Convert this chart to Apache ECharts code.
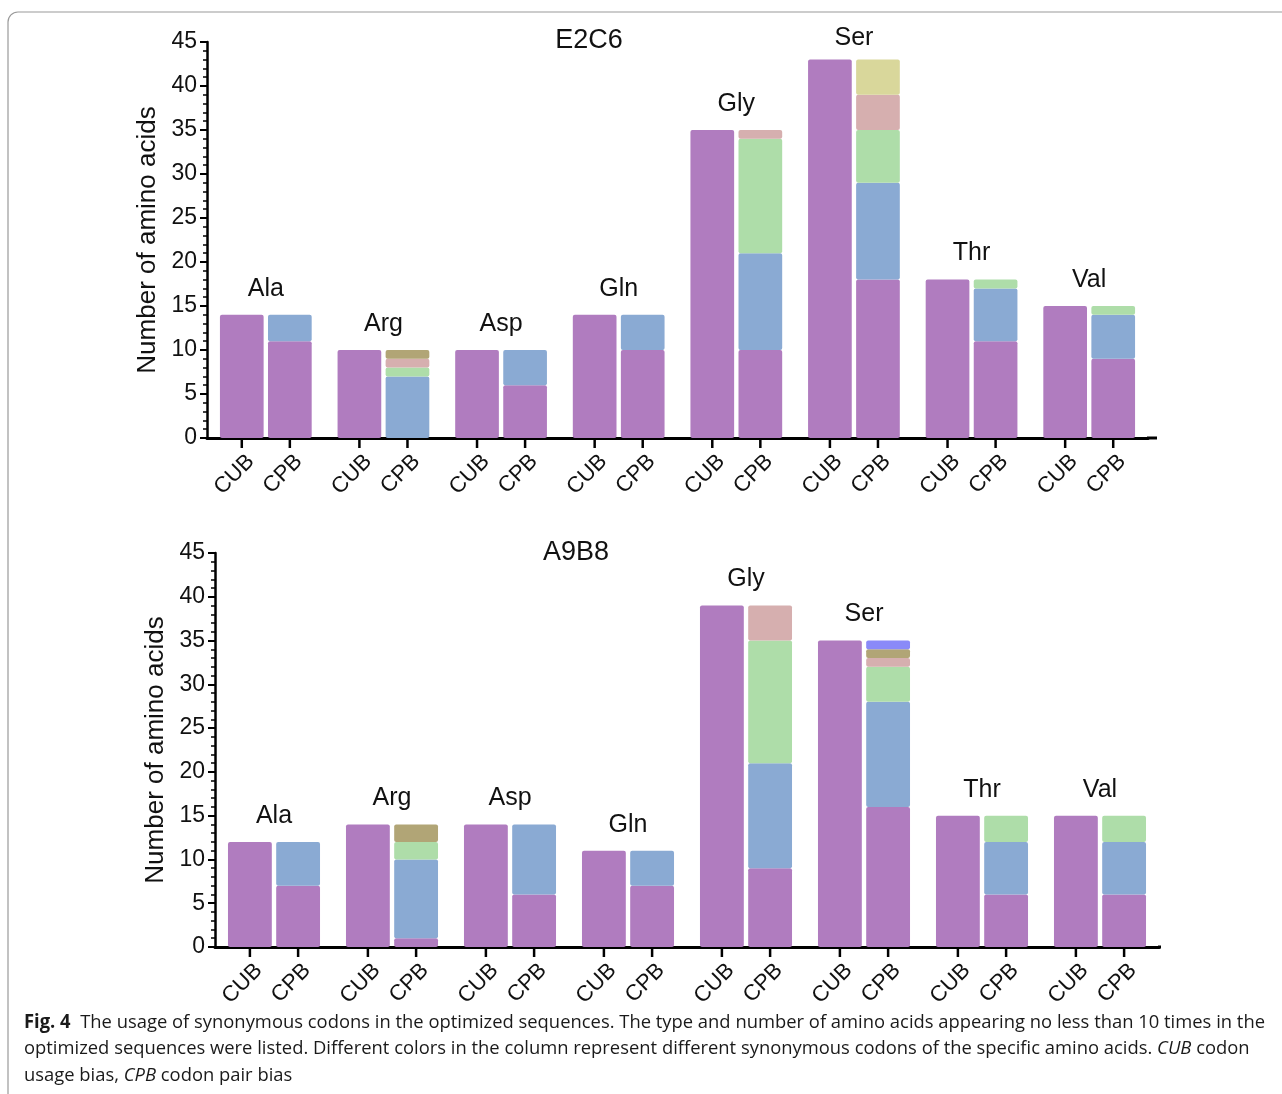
<!DOCTYPE html>
<html>
<head>
<meta charset="utf-8">
<script src="https://cdn.jsdelivr.net/npm/echarts@6/dist/echarts.min.js"></script>
<style>
html,body{margin:0;padding:0;background:#fff;}
#c{width:1282px;height:1094px;}
</style>
</head>
<body>
<div id="c"></div>
<script>
// ---------- DATA ----------
const aminoAcids = ['Ala', 'Arg', 'Asp', 'Gln', 'Gly', 'Ser', 'Thr', 'Val'];
const yTicks = [0, 5, 10, 15, 20, 25, 30, 35, 40, 45];

// E2C6
const e2c6_CUB      = [14, 10, 10, 14, 35, 43, 18, 15];
const e2c6_CPB_c1   = [11, 0, 6, 10, 10, 18, 11, 9];   // purple
const e2c6_CPB_c2   = [3, 7, 4, 4, 11, 11, 6, 5];      // blue
const e2c6_CPB_c3   = [0, 1, 0, 0, 13, 6, 1, 1];       // green
const e2c6_CPB_c4   = [0, 1, 0, 0, 1, 4, 0, 0];        // pink
const e2c6_CPB_c5   = [0, 0, 0, 0, 0, 4, 0, 0];        // yellow
const e2c6_CPB_c6   = [0, 1, 0, 0, 0, 0, 0, 0];        // olive
const e2c6_CPB_c7   = [0, 0, 0, 0, 0, 0, 0, 0];        // violet

// A9B8
const a9b8_CUB      = [12, 14, 14, 11, 39, 35, 15, 15];
const a9b8_CPB_c1   = [7, 1, 6, 7, 9, 16, 6, 6];
const a9b8_CPB_c2   = [5, 9, 8, 4, 12, 12, 6, 6];
const a9b8_CPB_c3   = [0, 2, 0, 0, 14, 4, 3, 3];
const a9b8_CPB_c4   = [0, 0, 0, 0, 4, 1, 0, 0];
const a9b8_CPB_c5   = [0, 0, 0, 0, 0, 0, 0, 0];
const a9b8_CPB_c6   = [0, 2, 0, 0, 0, 1, 0, 0];
const a9b8_CPB_c7   = [0, 0, 0, 0, 0, 1, 0, 0];

const barLabels = ['CUB', 'CPB'];
const titles = ['E2C6', 'A9B8'];

// ---------- STYLE ----------
const colors = ['#B07CBF', '#8AAAD3', '#AEDDA9', '#D6AFAF', '#D9D79B', '#B1A576', '#8A8AF8'];
const FAM = 'Liberation Sans';
const FONT = '"Liberation Sans", Arial, sans-serif';
const CAT_GAP = 0.22, BAR_GAP = 0.10;

const sets = [
  {cub: e2c6_CUB, cpb: [e2c6_CPB_c1, e2c6_CPB_c2, e2c6_CPB_c3, e2c6_CPB_c4, e2c6_CPB_c5, e2c6_CPB_c6, e2c6_CPB_c7]},
  {cub: a9b8_CUB, cpb: [a9b8_CPB_c1, a9b8_CPB_c2, a9b8_CPB_c3, a9b8_CPB_c4, a9b8_CPB_c5, a9b8_CPB_c6, a9b8_CPB_c7]}
];

const grids = [
  {left: 207, top: 42, width: 941, height: 396, axisEnd: 1157},
  {left: 215, top: 553, width: 944, height: 394, axisEnd: 1161}
];

const series = [];
const xAxes = [], yAxes = [];

sets.forEach((s, g) => {
  xAxes.push({
    type: 'category', gridIndex: g, data: aminoAcids,
    axisLine: {lineStyle: {color: '#000', width: 3}},
    axisTick: {show: false}, axisLabel: {show: false}, splitLine: {show: false}
  });
  yAxes.push({
    type: 'value', gridIndex: g, min: 0, max: 45, interval: 5,
    name: 'Number of amino acids', nameLocation: 'middle', nameGap: 45,
    nameTextStyle: {fontSize: 26, color: '#111', fontFamily: FAM},
    axisLine: {show: true, lineStyle: {color: '#000', width: 2.5}},
    axisTick: {show: true, length: 7, lineStyle: {color: '#000', width: 2}},
    minorTick: {show: true, splitNumber: 5, length: 4, lineStyle: {color: '#000', width: 1.5}},
    axisLabel: {fontSize: 23, color: '#111', fontFamily: FAM, margin: 10,
      formatter: v => yTicks.indexOf(v) >= 0 ? String(v) : ''},
    splitLine: {show: false}
  });
  const common = {
    type: 'bar', xAxisIndex: g, yAxisIndex: g,
    barCategoryGap: (CAT_GAP * 100) + '%', barGap: (BAR_GAP * 100) + '%',
    silent: true
  };
  series.push(Object.assign({}, common, {
    name: 'CUB', stack: 'cub' + g, data: s.cub,
    itemStyle: {color: colors[0], borderRadius: 2}
  }));
  s.cpb.forEach((arr, k) => {
    series.push(Object.assign({}, common, {
      name: 'CPB' + k, stack: 'cpb' + g, data: arr,
      itemStyle: {color: colors[k], borderRadius: 2}
    }));
  });

  // ticks + rotated labels under every bar
  const tickData = [];
  aminoAcids.forEach((a, i) => { tickData.push([i, -1]); tickData.push([i, 1]); });
  series.push({
    type: 'custom', xAxisIndex: g, yAxisIndex: g, data: tickData, clip: false, silent: true, z: 10,
    encode: {x: 0, y: 1},
    renderItem: function (params, api) {
      const c = api.coord([api.value(0), 0]);
      const band = api.size([1, 0])[0];
      const bw = band * (1 - CAT_GAP) / (2 + BAR_GAP);
      const off = bw * (1 + BAR_GAP) / 2;
      const side = api.value(1);
      const x = c[0] + side * off;
      const y = c[1];
      return {type: 'group', children: [
        {type: 'line', shape: {x1: x, y1: y, x2: x, y2: y + 10}, style: {stroke: '#000', lineWidth: 2.5}},
        {type: 'text', x: x + 9, y: y + 20, rotation: Math.PI / 4,
          style: {text: side < 0 ? barLabels[0] : barLabels[1], align: 'right', verticalAlign: 'middle',
            font: '22px ' + FONT, fill: '#111'}}
      ]};
    }
  });

  // amino acid names above each group
  const tops = aminoAcids.map((a, i) => {
    const cpbTotal = s.cpb.reduce((t, arr) => t + arr[i], 0);
    return [i, Math.max(s.cub[i], cpbTotal)];
  });
  const minY = grids[g].top - 4;
  series.push({
    type: 'custom', xAxisIndex: g, yAxisIndex: g, data: tops, clip: false, silent: true, z: 10,
    encode: {x: 0, y: 1},
    renderItem: function (params, api) {
      const c = api.coord([api.value(0), api.value(1)]);
      return {type: 'text', x: c[0], y: Math.max(c[1] - 26, minY),
        style: {text: aminoAcids[params.dataIndex], align: 'center', verticalAlign: 'middle',
          font: '25px ' + FONT, fill: '#111'}};
    }
  });
});

// caption
const capFont = '"Liberation Sans Narrow", "Open Sans", sans-serif';
const meas = document.createElement('canvas').getContext('2d');
function w(txt, font) { meas.font = font; return meas.measureText(txt).width; }
const capSize = 19;
const boldF = 'bold ' + capSize + 'px ' + capFont, normF = capSize + 'px ' + capFont, itF = 'italic ' + capSize + 'px ' + capFont;
const line1a = 'Fig. 4', line1b = '  The usage of synonymous codons in the optimized sequences. The type and number of amino acids appearing no less than 10 times in the';
const line1W = w(line1a, boldF) + w(line1b, normF);
const scaleX = 1241 / line1W;

const graphic = [
  {type: 'rect', shape: {x: 8, y: 12, width: 1300, height: 1100, r: 10},
    style: {fill: 'none', stroke: '#9a9a9a', lineWidth: 1.2}, silent: true},
  {type: 'text', x: 589, y: 41, style: {text: titles[0], font: '27px ' + FONT, fill: '#111', align: 'center', verticalAlign: 'middle'}},
  {type: 'text', x: 576, y: 553, style: {text: titles[1], font: '27px ' + FONT, fill: '#111', align: 'center', verticalAlign: 'middle'}},
  {type: 'text', x: 24, y: 1023, scaleX: scaleX, style: {
    text: '{b|' + line1a + '}{n|' + line1b + '}', verticalAlign: 'middle',
    rich: {b: {font: boldF, fill: '#1a1a1a'}, n: {font: normF, fill: '#1a1a1a'}}}},
  {type: 'text', x: 24, y: 1049, scaleX: scaleX, style: {
    text: '{n|optimized sequences were listed. Different colors in the column represent different synonymous codons of the specific amino acids. }{i|CUB}{n| codon}', verticalAlign: 'middle',
    rich: {i: {font: itF, fill: '#1a1a1a'}, n: {font: normF, fill: '#1a1a1a'}}}},
  {type: 'text', x: 24, y: 1076, scaleX: scaleX, style: {
    text: '{n|usage bias, }{i|CPB}{n| codon pair bias}', verticalAlign: 'middle',
    rich: {i: {font: itF, fill: '#1a1a1a'}, n: {font: normF, fill: '#1a1a1a'}}}}
];
// x-axis lines run a little past the last category
grids.forEach((gr, g) => {
  const x1 = gr.left + gr.width - 1, y = gr.top + gr.height;
  graphic.push({type: 'line', shape: {x1: x1, y1: y, x2: gr.axisEnd, y2: y},
    style: {stroke: '#000', lineWidth: 3}, silent: true});
});

const chart = echarts.init(document.getElementById('c'), null, {renderer: 'canvas'});
chart.setOption({
  animation: false,
  backgroundColor: '#fff',
  grid: grids.map(g => ({left: g.left, top: g.top, width: g.width, height: g.height})),
  xAxis: xAxes,
  yAxis: yAxes,
  series: series,
  graphic: graphic
});
</script>
</body>
</html>
